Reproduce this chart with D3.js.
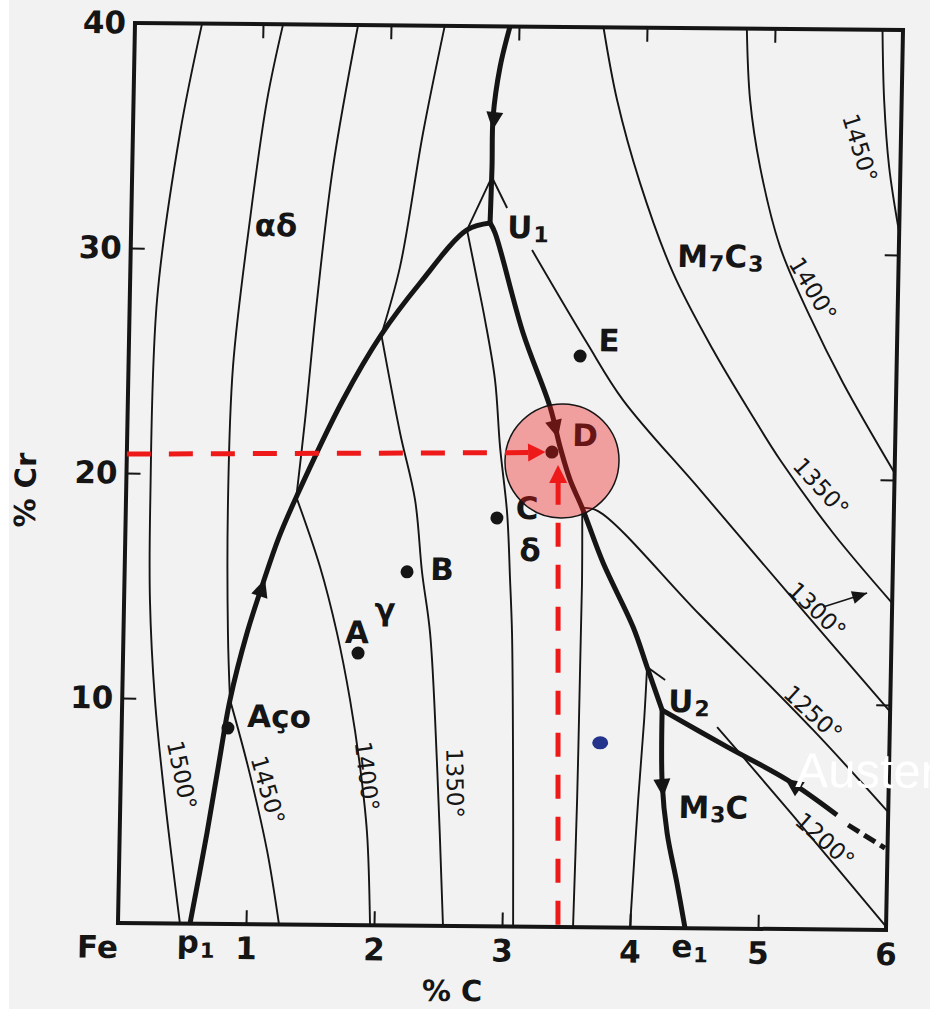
<!DOCTYPE html>
<html>
<head>
<meta charset="utf-8">
<script src="https://cdn.jsdelivr.net/npm/d3@7"></script>
<style>
  html, body { margin: 0; padding: 0; background: #ffffff; }
  svg { display: block; }
</style>
</head>
<body>
<div id="chart"></div>
<script>
// values: x = % C, y = % Cr
const xTicks = [1, 2, 3, 4, 5, 6];
const yTicks = [10, 20, 30, 40];

// liquidus isotherms, split where they kink on a valley
const iso1500 = [
  [[0.524, 40], [0.368, 35.13], [0.213, 27.7], [0.19, 18.81], [0.202, 14.36], [0.256, 9.92], [0.349, 5.47], [0.484, 0]]
];
const iso1450 = [
  [[1.157, 40], [1.043, 36.63], [0.927, 31.3], [0.816, 24.76], [0.797, 18.84], [0.816, 12.93], [0.842, 9.96]],
  [[0.842, 9.96], [0.993, 6.99], [1.153, 3.3], [1.258, 0]],
  [[5.84, 40], [5.863, 36.88], [5.912, 33.9], [6, 31.0]]
];
const iso1400 = [
  [[1.743, 40], [1.568, 33.68], [1.463, 27.76], [1.387, 22.43], [1.33, 19.0]],
  [[1.33, 19.0], [1.526, 15.9], [1.668, 12.97], [1.78, 10.0], [1.868, 7.03], [1.932, 4.1], [1.969, 0]],
  [[4.78, 40], [4.816, 36.83], [4.904, 33.85], [5.072, 30.31], [5.317, 27.21], [5.584, 24.29], [6, 20.31]]
];
const iso1350 = [
  [[2.42, 40], [2.266, 35.23], [2.106, 29.27], [1.97, 26.25]],
  [[1.97, 26.25], [2.131, 21.89], [2.258, 18.92], [2.323, 15.72], [2.395, 13.01], [2.47, 7.06], [2.539, 0]],
  [[3.66, 40], [3.777, 36.77], [3.969, 33.09], [4.24, 29.11], [4.564, 25.7], [4.886, 22.74], [5.104, 20.84], [5.528, 17.62], [6, 14.53]]
];
const iso1300 = [
  [[3.087, 0], [3.063, 7.09], [3.035, 13.04], [3.012, 15.4], [2.979, 18.38], [2.914, 21.31], [2.865, 24.28], [2.778, 26.94], [2.71, 28.72], [2.624, 30.94]],
  [[2.624, 30.94], [2.81, 33.3]],
  [[2.81, 33.3], [2.934, 31.93]],
  [[3.135, 30.07], [3.578, 25.96], [3.868, 23.44], [4.483, 19.48], [5.177, 14.98], [6, 9.7]]
];
const iso1250 = [
  [[3.555, 0], [3.568, 5.65], [3.572, 11.56], [3.574, 15.43], [3.565, 18.63]],
  [[3.565, 18.63], [3.689, 18.5], [4.501, 13.92], [5.401, 8.86], [6, 5.24]]
];
const iso1200 = [
  [[4.0, 0], [4.045, 5.68], [4.08, 9.24], [4.095, 11.59]],
  [[4.095, 11.59], [4.238, 11.02]],
  [[4.651, 8.95], [4.858, 7.63], [5.354, 4.41], [6, 0.15]]
];
const isotherms = [iso1500, iso1450, iso1400, iso1350, iso1300, iso1250, iso1200];

// eutectic / peritectic valleys
const valleyP1U1 = [[0.5625, 0], [0.682, 4.04], [0.76, 6.97], [0.842, 9.96], [0.965, 12.94], [1.083, 15.17], [1.2, 17.2], [1.33, 19.0], [1.68, 23.33], [1.97, 26.25], [2.265, 28.56], [2.624, 30.94], [2.803, 31.26]];
const valleyTopU1 = [[2.93, 40], [2.858, 38.19], [2.811, 35.97], [2.81, 33.75], [2.803, 31.26]];
const valleyU1U2 = [[2.803, 31.26], [2.844, 30.81], [3.077, 26.38], [3.299, 23.1], [3.383, 21.33], [3.466, 19.87], [3.565, 18.63], [3.736, 16.2], [3.98, 13.36], [4.095, 11.59], [4.219, 9.68]];
const valleyU2E1 = [[4.219, 9.68], [4.23, 6.44], [4.276, 4.22], [4.36, 2.0], [4.43, 0]];
const valleyU2Right = [[4.219, 9.68], [4.732, 8.07], [5.206, 6.63], [5.6, 5.09]];
const valleyRightDashed = [[5.689, 4.65], [5.98, 3.64]];

// arrowheads along the valleys: tip and a point behind it
const arrowTips = [[1.098, 15.35], [2.81, 35.39], [3.364, 21.73], [4.24, 5.82], [5.19, 6.67]];
const arrowFrom = [[0.965, 12.94], [2.858, 38.19], [3.299, 23.1], [4.23, 6.44], [5.6, 5.09]];

// alloy points
const alloyC = [0.83, 1.835, 2.206, 2.90, 3.32, 3.526];
const alloyCr = [8.71, 12.09, 15.72, 18.15, 21.1, 25.38];

// letters, centred
const letterText = ["αδ", "γ", "δ", "A", "B", "C", "D", "E"];
const letterC = [1.131, 2.04, 3.164, 1.824, 2.479, 3.134, 3.577, 3.75];
const letterCr = [31.08, 14.06, 16.74, 13.03, 15.86, 18.61, 21.88, 26.1];

// labels with subscripts, left / baseline
const subLabelParts = [["U", "1"], ["M", "7", "C", "3"], ["U", "2"], ["M", "3", "C"], ["Aço"]];
const subLabelC = [2.938, 4.27, 4.266, 4.36, 0.979];
const subLabelCr = [30.6, 29.38, 9.6, 4.89, 8.76];

// isotherm labels
const isoLabelText = ["1500°", "1450°", "1400°", "1350°", "1450°", "1400°", "1350°", "1300°", "1250°", "1200°"];
const isoLabelC = [0.478, 1.152, 1.924, 2.612, 5.683, 5.336, 5.428, 5.415, 5.399, 5.511];
const isoLabelCr = [6.6, 5.97, 6.63, 6.36, 34.74, 28.45, 19.66, 14.19, 9.61, 3.97];
const isoLabelAngle = [77, 73, 82, 88, 72, 58, 47, 43, 42, 41];

// marks added on top of the scan
const circleCentre = [3.40, 20.71];
const hLineFrom = [0, 20.84], hLineTo = [3.134, 21.07], hTip = [3.27, 21.1];
const vLineFrom = [3.437, 0.1], vLineTo = [3.373, 19.73], vTip = [3.37, 20.53];
const blueDot = [3.74, 8.2];
const noteFrom = [5.461, 14.33], noteTip = [5.803, 14.97];
const overlayWord = "Austenita";
const overlayAt = [5.27, 6.32];

const ink = "#151515";
const font = "'DejaVu Sans', sans-serif";

const svg = d3.select("#chart").append("svg")
  .attr("width", 930)
  .attr("height", 1009);

svg.append("rect").attr("width", 930).attr("height", 1009).attr("fill", "#ffffff");
svg.append("rect").attr("x", 9).attr("width", 921).attr("height", 1009).attr("fill", "#f2f2f2");

// the scan is slightly rotated / sheared
const g = svg.append("g")
  .attr("transform", "matrix(1,0.0091,-0.0189,1,135,23)");

const x = d3.scaleLinear().domain([0, 6]).range([0, 768]);
const y = d3.scaleLinear().domain([0, 40]).range([900, 0]);

const line = d3.line()
  .x(d => x(d[0]))
  .y(d => y(d[1]))
  .curve(d3.curveCatmullRom.alpha(0.5));

// frame
g.append("rect")
  .attr("x", x(0)).attr("y", y(40))
  .attr("width", x(6) - x(0)).attr("height", y(0) - y(40))
  .attr("fill", "none").attr("stroke", ink).attr("stroke-width", 4);

function styleAxis(a, size) {
  a.select(".domain").remove();
  a.selectAll("line").attr("stroke", ink).attr("stroke-width", 2);
  a.selectAll("text")
    .attr("font-family", font).attr("font-size", size)
    .attr("font-weight", "bold").attr("fill", ink);
}

g.append("g")
  .attr("transform", `translate(0,${y(0)})`)
  .call(d3.axisBottom(x).tickValues(xTicks).tickSize(-14).tickPadding(13).tickFormat(d3.format("d")))
  .call(a => styleAxis(a, 31));

g.append("g")
  .attr("transform", `translate(0,${y(40)})`)
  .call(d3.axisTop(x).tickValues(xTicks.filter(d => d < 6)).tickSize(-14).tickFormat(""))
  .call(a => styleAxis(a, 31));

g.append("g")
  .attr("transform", `translate(${x(0)},0)`)
  .call(d3.axisLeft(y).tickValues(yTicks).tickSize(-14).tickPadding(9).tickFormat(d3.format("d")))
  .call(a => styleAxis(a, 31));

g.append("g")
  .attr("transform", `translate(${x(6)},0)`)
  .call(d3.axisRight(y).tickValues(yTicks.filter(d => d < 40)).tickSize(-14).tickFormat(""))
  .call(a => styleAxis(a, 31));

// isotherms
isotherms.forEach(iso => {
  g.append("g").selectAll("path")
    .data(iso)
    .join("path")
    .attr("d", line)
    .attr("fill", "none")
    .attr("stroke", ink)
    .attr("stroke-width", 1.9)
    .attr("stroke-linejoin", "round");
});

// valleys
g.append("g").selectAll("path")
  .data([valleyP1U1, valleyTopU1, valleyU1U2, valleyU2E1, valleyU2Right])
  .join("path")
  .attr("d", line)
  .attr("fill", "none")
  .attr("stroke", ink)
  .attr("stroke-width", 5)
  .attr("stroke-linejoin", "round");

g.append("path")
  .datum(valleyRightDashed)
  .attr("d", line)
  .attr("fill", "none")
  .attr("stroke", ink)
  .attr("stroke-width", 5)
  .attr("stroke-dasharray", "13,6");

function head(tip, base, halfW) {
  const tx = x(tip[0]), ty = y(tip[1]), bx = x(base[0]), by = y(base[1]);
  const dx = tx - bx, dy = ty - by, L = Math.hypot(dx, dy);
  const nx = -dy / L, ny = dx / L;
  return [[tx, ty], [bx + nx * halfW, by + ny * halfW], [bx - nx * halfW, by - ny * halfW]];
}

function headAlong(tip, from, len, halfW) {
  const tx = x(tip[0]), ty = y(tip[1]), fx = x(from[0]), fy = y(from[1]);
  const dx = tx - fx, dy = ty - fy, L = Math.hypot(dx, dy);
  const ux = dx / L, uy = dy / L;
  const bx = tx - ux * len, by = ty - uy * len;
  return [[tx, ty], [bx - uy * halfW, by + ux * halfW], [bx + uy * halfW, by - ux * halfW]];
}

g.append("g").selectAll("polygon")
  .data(arrowTips.map((t, i) => headAlong(t, arrowFrom[i], 18, 8.5)))
  .join("polygon")
  .attr("points", d => d.map(p => p.join(",")).join(" "))
  .attr("fill", ink);

// alloy points
g.append("g").selectAll("circle")
  .data(alloyC.map((c, i) => [c, alloyCr[i]]))
  .join("circle")
  .attr("cx", d => x(d[0]))
  .attr("cy", d => y(d[1]))
  .attr("r", 6.5)
  .attr("fill", ink);

// letters
g.append("g").selectAll("text")
  .data(letterText.map((t, i) => ({ t, c: letterC[i], cr: letterCr[i] })))
  .join("text")
  .attr("x", d => x(d.c))
  .attr("y", d => y(d.cr))
  .attr("dy", "0.36em")
  .attr("text-anchor", "middle")
  .attr("font-family", font)
  .attr("font-size", 31)
  .attr("font-weight", "bold")
  .attr("fill", ink)
  .text(d => d.t);

// labels with subscripts
subLabelParts.forEach((parts, i) => {
  const t = g.append("text")
    .attr("x", x(subLabelC[i]))
    .attr("y", y(subLabelCr[i]))
    .attr("font-family", font)
    .attr("font-weight", "bold")
    .attr("fill", ink);
  let prevSub = false;
  parts.forEach((p, k) => {
    const sub = k % 2 === 1;
    const shift = (sub && !prevSub) ? 4 : (!sub && prevSub) ? -4 : 0;
    t.append("tspan")
      .attr("font-size", sub ? 22 : 31)
      .attr("dy", shift)
      .attr("dx", sub ? 1 : 0)
      .text(p);
    prevSub = sub;
  });
});

// isotherm temperatures
g.append("g").selectAll("text")
  .data(isoLabelText.map((t, i) => ({ t, c: isoLabelC[i], cr: isoLabelCr[i], a: isoLabelAngle[i] })))
  .join("text")
  .attr("transform", d => `translate(${x(d.c)},${y(d.cr)}) rotate(${d.a})`)
  .attr("dy", "0.36em")
  .attr("text-anchor", "middle")
  .attr("font-family", font)
  .attr("font-size", 23)
  .attr("fill", ink)
  .text(d => d.t);

// bottom corner names
g.append("text")
  .attr("x", x(0) - 20).attr("y", y(0) + 35)
  .attr("text-anchor", "middle")
  .attr("font-family", font).attr("font-size", 31).attr("font-weight", "bold").attr("fill", ink)
  .text("Fe");

[[valleyP1U1[0], "p", 6], [valleyU2E1[valleyU2E1.length - 1], "e", 5]].forEach(([pt, letter, off]) => {
  const t = g.append("text")
    .attr("x", x(pt[0]) + off).attr("y", y(0) + 29)
    .attr("text-anchor", "middle")
    .attr("font-family", font).attr("font-weight", "bold").attr("fill", ink);
  t.append("tspan").attr("font-size", 31).text(letter);
  t.append("tspan").attr("font-size", 21).attr("dy", 5).attr("dx", 1).text("1");
});

// axis titles
g.append("text")
  .attr("x", x(2.62)).attr("y", y(0) + 75)
  .attr("text-anchor", "middle")
  .attr("font-family", font).attr("font-size", 29).attr("font-weight", "bold").attr("fill", ink)
  .text("% C");

g.append("text")
  .attr("transform", `translate(${x(-0.79)},${y(19.2)}) rotate(-90)`)
  .attr("dy", "0.36em")
  .attr("text-anchor", "middle")
  .attr("font-family", font).attr("font-size", 29).attr("font-weight", "bold").attr("fill", ink)
  .text("% Cr");

// blue mark
g.append("ellipse")
  .attr("cx", x(blueDot[0])).attr("cy", y(blueDot[1]))
  .attr("rx", 8).attr("ry", 6.5)
  .attr("fill", "#24348c");

// small black annotation arrow
g.append("line")
  .attr("x1", x(noteFrom[0])).attr("y1", y(noteFrom[1]))
  .attr("x2", x(noteTip[0])).attr("y2", y(noteTip[1]))
  .attr("stroke", ink).attr("stroke-width", 1.6);
g.append("polygon")
  .attr("points", headAlong(noteTip, noteFrom, 15, 6.5).map(p => p.join(",")).join(" "))
  .attr("fill", ink);

// white overlay word (cut by the right edge, as in the reference)
g.append("text")
  .attr("x", x(overlayAt[0])).attr("y", y(overlayAt[1]))
  .attr("font-family", "'Liberation Sans', Arial, sans-serif")
  .attr("font-size", 49)
  .attr("fill", "#ffffff")
  .text(overlayWord);

// red highlight of point D
g.append("circle")
  .attr("cx", x(circleCentre[0])).attr("cy", y(circleCentre[1]))
  .attr("r", 57)
  .attr("fill", "rgba(240,20,20,0.38)")
  .attr("stroke", ink).attr("stroke-width", 1.5);

const red = "#ee1a1a";
g.append("line")
  .attr("x1", x(hLineFrom[0])).attr("y1", y(hLineFrom[1]))
  .attr("x2", x(hLineTo[0])).attr("y2", y(hLineTo[1]))
  .attr("stroke", red).attr("stroke-width", 5).attr("stroke-dasharray", "24,18");
g.append("line")
  .attr("x1", x(vLineFrom[0])).attr("y1", y(vLineFrom[1]))
  .attr("x2", x(vLineTo[0])).attr("y2", y(vLineTo[1]))
  .attr("stroke", red).attr("stroke-width", 5).attr("stroke-dasharray", "24,18");
g.append("g").selectAll("polygon")
  .data([head(hTip, hLineTo, 9), head(vTip, vLineTo, 9)])
  .join("polygon")
  .attr("points", d => d.map(p => p.join(",")).join(" "))
  .attr("fill", red);
</script>
</body>
</html>
